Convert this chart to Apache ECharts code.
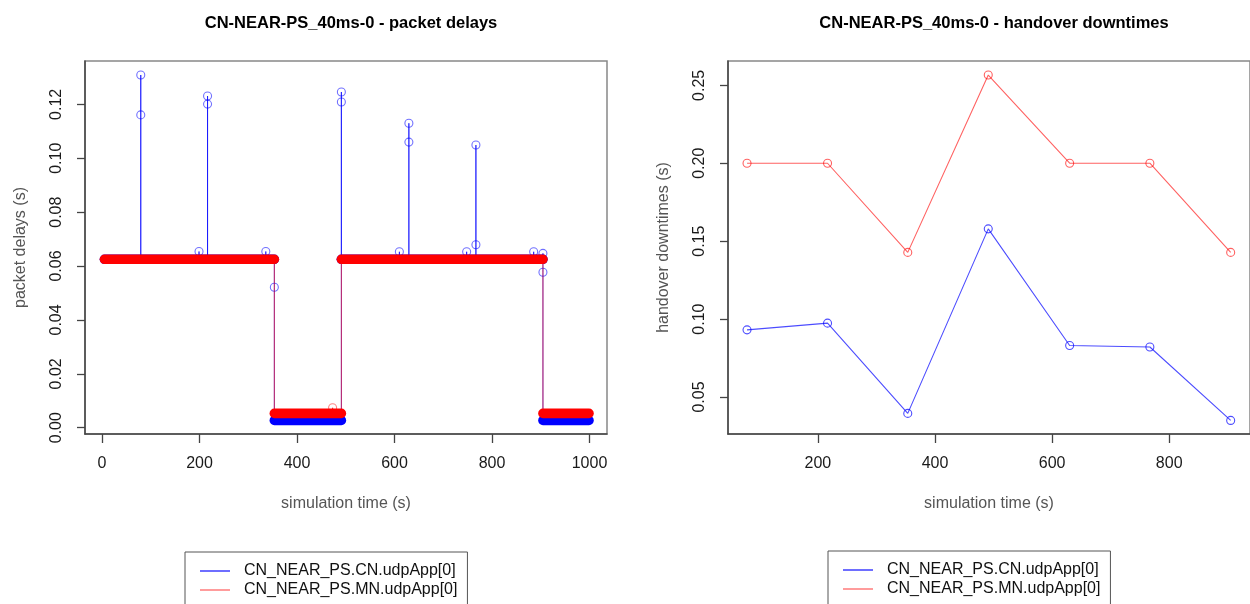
<!DOCTYPE html>
<html>
<head>
<meta charset="utf-8">
<script src="https://cdn.jsdelivr.net/npm/echarts@6/dist/echarts.min.js"></script>
<style>
  html, body { margin: 0; padding: 0; background: #fff; }
  #chart { width: 1250px; height: 604px; }
</style>
</head>
<body>
<div id="chart"></div>
<script>
// ---------- data ----------
const seriesNames = ['CN_NEAR_PS.CN.udpApp[0]', 'CN_NEAR_PS.MN.udpApp[0]'];

// Packet delays: steady delay levels as [from (s), to (s), delay (s)]
const cnLevels = [[5, 353.5, 0.0625], [353.5, 491, 0.0027], [491, 904.5, 0.0625], [904.5, 999, 0.0027]];
const mnLevels = [[5, 353.5, 0.0625], [353.5, 491, 0.0053], [491, 904.5, 0.0625], [904.5, 999, 0.0053]];

// Packet delays: single packets off the steady level, [time (s), delay (s)]
const cnPackets = [
  [79.5, 0.1309], [79.5, 0.1161], [199, 0.0654], [216.5, 0.1231], [216.5, 0.1201],
  [336, 0.0654], [353.5, 0.0521], [491, 0.1246], [491, 0.1209], [610, 0.0653],
  [629.5, 0.1130], [629.5, 0.1060], [748, 0.0653], [767, 0.1049], [767, 0.0679],
  [885.5, 0.0653], [904.5, 0.0647], [904.5, 0.0577]
];
const mnPackets = [[473, 0.0074]];

// Handover downtimes
const handoverTimes = [79, 216.5, 353.5, 491, 630, 767, 905];
const cnDowntimes = [0.0931, 0.0974, 0.0395, 0.1579, 0.0831, 0.0821, 0.0350];
const mnDowntimes = [0.2000, 0.2000, 0.1428, 0.2566, 0.2000, 0.2000, 0.1428];

// Tick values
const delayTicksX = [0, 200, 400, 600, 800, 1000];
const delayTicksY = [0, 0.02, 0.04, 0.06, 0.08, 0.10, 0.12];
const downtimeTicksX = [200, 400, 600, 800];
const downtimeTicksY = [0.05, 0.10, 0.15, 0.20, 0.25];

// ---------- styling ----------
const FONT = "'Liberation Sans', Arial, Helvetica, sans-serif";
const BLUE = '#0000ff';
const RED = '#ff0000';
const BLUE_THIN = 'rgba(0, 0, 255, 0.7)';
const RED_THIN = 'rgba(255, 0, 0, 0.62)';
const BAND_WIDTH = 9.6;

// Chronological path through levels and single packets (type "o" line)
function delayPath(levels, packets) {
  const levelAt = (x, after) => {
    for (const [a, b, v] of levels) {
      if (after ? (x >= a && x < b) : (x > a && x <= b)) return v;
    }
    return null;
  };
  const xs = [...new Set([...levels.flatMap(l => [l[0], l[1]]), ...packets.map(p => p[0])])]
    .sort((a, b) => a - b);
  const path = [];
  xs.forEach(x => {
    const before = levelAt(x, false);
    const after = levelAt(x, true);
    if (before !== null) path.push([x, before]);
    packets.filter(p => p[0] === x).forEach(p => path.push(p));
    if (after !== null) path.push([x, after]);
  });
  return path;
}

function bandSeries(levels, name, color) {
  return levels.map(([a, b, v]) => ({
    type: 'line', name, xAxisIndex: 0, yAxisIndex: 0,
    data: [[a, v], [b, v]], showSymbol: false, silent: true,
    lineStyle: { color, width: BAND_WIDTH, cap: 'round' }
  }));
}

function pathSeries(levels, packets, name, color) {
  return [{
    type: 'line', name, xAxisIndex: 0, yAxisIndex: 0,
    data: delayPath(levels, packets), showSymbol: false, silent: true,
    lineStyle: { color, width: 1 }
  }, {
    type: 'scatter', name, xAxisIndex: 0, yAxisIndex: 0,
    data: packets, symbol: 'circle', symbolSize: 8, silent: true,
    itemStyle: { color: 'rgba(0,0,0,0)', borderColor: color, borderWidth: 1.1 }
  }];
}

function downtimeSeries(values, name, color) {
  return {
    type: 'line', name, xAxisIndex: 1, yAxisIndex: 1,
    data: handoverTimes.map((t, i) => [t, values[i]]),
    symbol: 'circle', symbolSize: 8, showAllSymbol: true, silent: true,
    lineStyle: { color, width: 1.1 },
    itemStyle: { color: 'rgba(0,0,0,0)', borderColor: color, borderWidth: 1.1 }
  };
}

const tickLabel = { fontFamily: FONT, fontSize: 16, color: '#1a1a1a' };
const nameText = { fontFamily: FONT, fontSize: 16, color: '#555' };

function xAxis(gridIndex, min, max, ticks, name) {
  return {
    type: 'value', gridIndex, min, max, name, nameLocation: 'middle', nameGap: 62,
    nameTextStyle: nameText,
    splitLine: { show: false },
    axisLine: { show: true, onZero: false, lineStyle: { color: '#444', width: 1.5 } },
    axisTick: { show: true, customValues: ticks, length: 9, lineStyle: { color: '#444', width: 1.3 } },
    axisLabel: Object.assign({ customValues: ticks, margin: 22, formatter: v => String(Math.round(v)) }, tickLabel)
  };
}

function yAxis(gridIndex, min, max, ticks, name) {
  return {
    type: 'value', gridIndex, min, max, name, nameLocation: 'middle', nameGap: 56,
    nameTextStyle: nameText,
    splitLine: { show: false },
    axisLine: { show: true, onZero: false, lineStyle: { color: '#444', width: 1.5 } },
    axisTick: { show: true, customValues: ticks, length: 8, lineStyle: { color: '#444', width: 1.3 } },
    axisLabel: Object.assign({ customValues: ticks, margin: 20, rotate: 90, formatter: v => v.toFixed(2) }, tickLabel)
  };
}

function legend(left, top) {
  return {
    left, top, height: 40, orient: 'vertical', selectedMode: false,
    borderColor: '#555', borderWidth: 1, padding: [11, 10, 14, 15],
    itemGap: 3, itemWidth: 30, itemHeight: 1.5,
    textStyle: { fontFamily: FONT, fontSize: 16, color: '#111', padding: [0, 0, 0, 9] },
    data: [
      { name: seriesNames[0], icon: 'rect', itemStyle: { color: 'rgba(40, 40, 255, 0.9)' } },
      { name: seriesNames[1], icon: 'rect', itemStyle: { color: 'rgba(255, 90, 90, 0.8)' } }
    ]
  };
}

const option = {
  backgroundColor: '#fff',
  animation: false,
  title: [
    { text: 'CN-NEAR-PS_40ms-0 - packet delays', left: 346, top: 10, textAlign: 'center',
      textStyle: { fontFamily: FONT, fontSize: 16.5, fontWeight: 'bold', color: '#000' } },
    { text: 'CN-NEAR-PS_40ms-0 - handover downtimes', left: 989, top: 10, textAlign: 'center',
      textStyle: { fontFamily: FONT, fontSize: 16.5, fontWeight: 'bold', color: '#000' } }
  ],
  legend: [legend(185, 552), legend(828, 551)],
  grid: [
    { left: 85, top: 61, width: 522, height: 373, show: true, borderColor: '#888', borderWidth: 1.5, backgroundColor: 'transparent' },
    { left: 728, top: 61, width: 523, height: 373, show: true, borderColor: '#888', borderWidth: 1.5, backgroundColor: 'transparent' }
  ],
  xAxis: [
    xAxis(0, -34.9, 1035.9, delayTicksX, 'simulation time (s)'),
    xAxis(1, 46.5, 938, downtimeTicksX, 'simulation time (s)')
  ],
  yAxis: [
    yAxis(0, -0.00234, 0.1361, delayTicksY, 'packet delays (s)'),
    yAxis(1, 0.02628, 0.2656, downtimeTicksY, 'handover downtimes (s)')
  ],
  series: [
    ...bandSeries(cnLevels, seriesNames[0], BLUE),
    ...pathSeries(cnLevels, cnPackets, seriesNames[0], BLUE_THIN),
    ...bandSeries(mnLevels, seriesNames[1], RED),
    ...pathSeries(mnLevels, mnPackets, seriesNames[1], RED_THIN),
    downtimeSeries(cnDowntimes, seriesNames[0], BLUE_THIN),
    downtimeSeries(mnDowntimes, seriesNames[1], RED_THIN)
  ]
};

const chart = echarts.init(document.getElementById('chart'), null, { renderer: 'canvas' });
chart.setOption(option);
</script>
</body>
</html>
